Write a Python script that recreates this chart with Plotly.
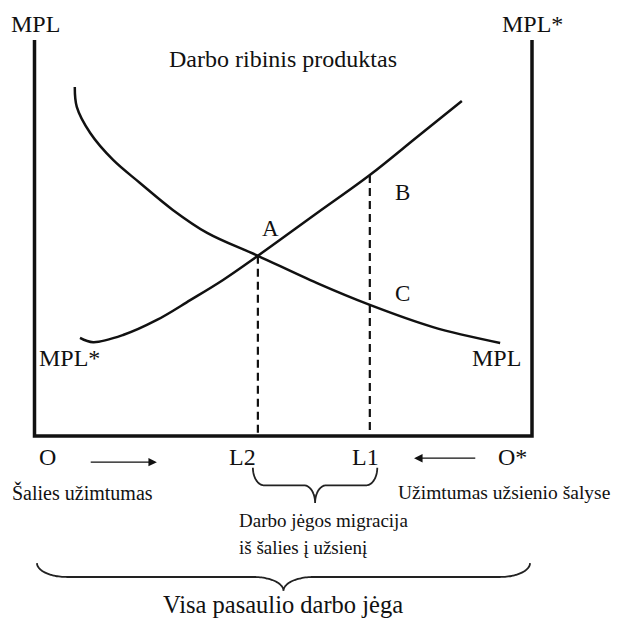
import numpy as np
import plotly.graph_objects as go

# ---------------- data (economic units) ----------------
# horizontal: world labour force, O = 0 ... O* = 100
# vertical: marginal product of labour, 0 ... 100
axis_top = 100
world_labour = 100

# MPL (home country, measured from O) - decreasing
mpl_x = [8.1, 8.5, 11.2, 15.8, 21.2, 27.8, 34.7, 44.9, 56.8, 67.4, 80.1, 93.6]
mpl_y = [88.1, 83.1, 76.5, 69.7, 63.9, 57.1, 51.3, 45.5, 38.6, 33.1, 27.5, 23.5]

# MPL* (foreign, measured from O*) - increasing in this diagram
mpls_x = [9.15, 11.8, 17.8, 24.6, 31.3, 37.9, 44.9, 56.8, 67.4, 76.9, 85.9]
mpls_y = [24.8, 23.7, 25.5, 29.3, 34.3, 39.4, 45.5, 56.3, 65.9, 75.5, 84.6]

L2 = 44.9      # equilibrium (point A)
A_val = 45.5
L1 = 67.4      # initial allocation
B_val = 65.9
C_val = 33.1

# braces: (x_left, x_right, y_top, y_tip)
brace_migration = (43.9, 68.9, -8.0, -16.9)
brace_world = (0.5, 99.6, -32.1, -39.1)

# labels: (text, x, y, xanchor, size)
labels = [
    ("MPL", 0.1, 104.0, "center", 24),
    ("MPL*", 100.0, 104.0, "center", 24),
    ("Darbo ribinis produktas", 49.9, 95.3, "center", 24),
    ("A", 47.5, 52.5, "center", 23),
    ("B", 73.9, 61.6, "center", 23),
    ("C", 73.9, 36.1, "center", 23),
    ("MPL*", 7.1, 19.7, "center", 24),
    ("MPL", 92.8, 19.7, "center", 24),
    ("O", 2.7, -5.3, "center", 24),
    ("L2", 41.9, -5.3, "center", 24),
    ("L1", 66.6, -5.3, "center", 24),
    ("O*", 96.0, -5.3, "center", 24),
    ("Šalies užimtumas", -4.9, -14.2, "left", 20),
    ("Užimtumas užsienio šalyse", 116.1, -14.2, "right", 19.5),
    ("Darbo jėgos migracija", 40.7, -21.3, "left", 19),
    ("iš šalies į užsienį", 40.7, -28.1, "left", 19),
    ("Visa pasaulio darbo jėga", 50.0, -42.6, "center", 24.5),
]

# arrows: (x_from, x_to, y)
arrow_home = (11.0, 24.6, -6.6)
arrow_foreign = (88.9, 76.3, -5.6)

FONT = "Liberation Serif"
BLACK = "#111111"


def brace(x0, x1, y0, y1, n=30):
    """curly brace opening upward, ends at y0, tip at y1"""
    xm = (x0 + x1) / 2
    ymid = (y0 + y1) / 2
    w = (x1 - x0)
    r = min(w * 0.09, 6)
    t = np.linspace(0, np.pi / 2, n)
    xs, ys = [], []
    xs += list(x0 + r * (1 - np.cos(t)))
    ys += list(ymid + (y0 - ymid) * (1 - np.sin(t)))
    xs += list(xm - r + r * np.sin(t))
    ys += list(ymid - (ymid - y1) * (1 - np.cos(t)))
    xs += list(xm + r - r * np.sin(t[::-1]))
    ys += list(ymid - (ymid - y1) * (1 - np.cos(t[::-1])))
    xs += list(x1 - r * (1 - np.cos(t[::-1])))
    ys += list(ymid + (y0 - ymid) * (1 - np.sin(t[::-1])))
    return xs, ys


fig = go.Figure()

# axes box (left, bottom, right)
fig.add_trace(go.Scatter(x=[0, 0, world_labour, world_labour],
                         y=[axis_top, 0, 0, axis_top],
                         mode="lines", line=dict(color=BLACK, width=3.5)))

fig.add_trace(go.Scatter(x=mpl_x, y=mpl_y, mode="lines",
                         line=dict(color=BLACK, width=2.5, shape="spline", smoothing=1.0)))
fig.add_trace(go.Scatter(x=mpls_x, y=mpls_y, mode="lines",
                         line=dict(color=BLACK, width=2.5, shape="spline", smoothing=1.0)))

dash = dict(color=BLACK, width=2.2, dash="8px,5px")
fig.add_trace(go.Scatter(x=[L2, L2], y=[A_val, 0], mode="lines", line=dash))
fig.add_trace(go.Scatter(x=[L1, L1], y=[B_val, 0], mode="lines", line=dash))

for b in (brace_migration, brace_world):
    bx, by = brace(*b)
    fig.add_trace(go.Scatter(x=bx, y=by, mode="lines",
                             line=dict(color="#222222", width=1.8, shape="spline")))

annotations = []
for text, x, y, xa, size in labels:
    annotations.append(dict(text=text, x=x, y=y, xref="x", yref="y",
                            xanchor=xa, yanchor="middle", showarrow=False,
                            font=dict(family=FONT, size=size, color=BLACK)))

for xf, xt, y in (arrow_home, arrow_foreign):
    annotations.append(dict(x=xt, y=y, ax=xf, ay=y, xref="x", yref="y",
                            axref="x", ayref="y", text="", showarrow=True,
                            arrowhead=2, arrowsize=1.3, arrowwidth=1.3,
                            arrowcolor=BLACK))

# page body has an 8px margin; ranges are chosen so the window maps 1:1
fig.update_layout(
    width=611, height=611,
    margin=dict(l=0, r=0, t=0, b=0),
    paper_bgcolor="white", plot_bgcolor="white",
    showlegend=False,
    xaxis=dict(range=[(8 - 34.5) / 4.975, (619 - 34.5) / 4.975], visible=False, fixedrange=True),
    yaxis=dict(range=[(436 - 619) / 3.96, (436 - 8) / 3.96], visible=False, fixedrange=True),
    annotations=annotations,
)

fig.write_html("out.html")
